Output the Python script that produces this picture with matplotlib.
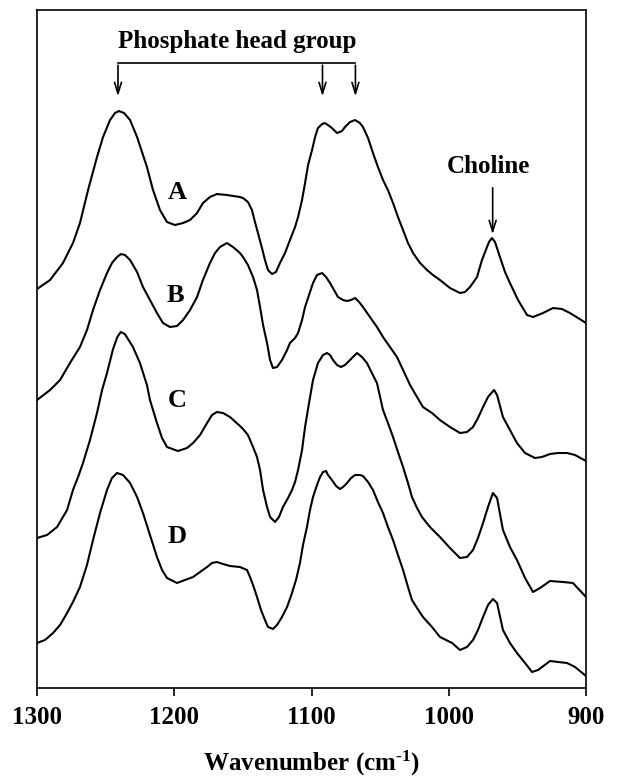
import numpy as np
import matplotlib
matplotlib.use("Agg")
from matplotlib import pyplot as plt

plt.rcParams['font.family'] = ['Liberation Serif', 'DejaVu Serif']
plt.rcParams['font.weight'] = 'bold'
plt.rcParams['mathtext.fontset'] = 'custom'
plt.rcParams['mathtext.rm'] = 'Liberation Serif:bold'
plt.rcParams['mathtext.bf'] = 'Liberation Serif:bold'
plt.rcParams['mathtext.it'] = 'Liberation Serif:bold'
plt.rcParams['mathtext.default'] = 'bf'

# traced spectra (wavenumber, stacked intensity in arbitrary units)
wn_A = [1300, 1290.5, 1281.1, 1273.8, 1268.7, 1262.8, 1256.3, 1251.9, 1246.8, 1243.2, 1240.3,
        1236.6, 1232.2, 1227.1, 1219.9, 1215.5, 1210.4, 1205.3, 1199.5, 1193.6, 1188.5, 1183.4,
        1179.1, 1174.0, 1168.9, 1161.6, 1152.1, 1149.9, 1146.3, 1143.4, 1141.2, 1139.0, 1136.1,
        1133.9, 1131.7, 1128.8, 1125.9, 1123.0, 1119.3, 1115.7, 1112.0, 1109.8, 1106.9, 1104.7,
        1102.5, 1099.6, 1097.4, 1095.3, 1092.3, 1090.2, 1088.0, 1085.1, 1081.4, 1077.8, 1075.6,
        1072.0, 1068.3, 1064.7, 1062.5, 1058.8, 1055.2, 1051.6, 1047.9, 1044.3, 1040.6, 1037.0,
        1033.3, 1029.7, 1026.0, 1020.9, 1015.8, 1011.5, 1006.4, 999.1, 991.8, 988.2, 984.5,
        979.4, 975.8, 972.1, 970.7, 968.5, 966.3, 962.7, 959.0, 955.4, 949.5, 943.0, 938.6,
        931.3, 924.0, 917.5, 911.7, 905.8, 900]
A = [399, 408, 425, 445, 465, 498, 531, 551, 568, 575, 577,
     575, 568, 551, 521, 498, 478, 466, 463, 465, 468, 475,
     485, 491, 494, 493, 491, 490, 486, 478, 466, 455, 440,
     428, 418, 414, 416, 425, 435, 448, 461, 471, 488, 505,
     523, 538, 551, 560, 564, 565, 563, 560, 555, 557, 561,
     566, 568, 565, 561, 550, 535, 521, 508, 498, 485, 471,
     458, 445, 435, 425, 418, 413, 408, 400, 395, 396, 401,
     411, 428, 441, 446, 450, 446, 431, 416, 405, 388, 373, 371,
     375, 380, 379, 375, 370, 365]

wn_B = [1300, 1290.5, 1283.2, 1276.0, 1268.7, 1263.6, 1259.2, 1254.1, 1249.0, 1245.4, 1241.7,
        1238.8, 1235.9, 1232.2, 1227.1, 1222.8, 1217.7, 1212.6, 1208.2, 1203.1, 1198.0, 1193.6,
        1188.5, 1183.4, 1179.1, 1174.0, 1170.3, 1166.7, 1161.6, 1157.2, 1152.1, 1149.9, 1146.3,
        1142.6, 1139.7, 1137.5, 1135.3, 1132.4, 1130.2, 1128.1, 1125.1, 1121.5, 1117.8, 1115.7,
        1112.0, 1109.8, 1106.9, 1104.7, 1101.1, 1098.9, 1096.0, 1092.3, 1089.4, 1086.5, 1083.6,
        1080.7, 1077.0, 1074.1, 1071.2, 1068.3, 1065.3, 1062.5, 1057.4, 1052.3, 1047.9, 1042.8,
        1037.7, 1033.3, 1028.2, 1023.1, 1018.8, 1012.2, 1006.4, 999.1, 991.8, 986.7, 982.3,
        978.7, 975.0, 971.4, 967.0, 964.8, 960.5, 955.4, 950.3, 944.4, 937.2, 932.1, 926.2,
        920.4, 913.8, 908.0, 900]
B = [288, 298, 308, 325, 341, 358, 378, 398, 415, 425, 431,
     434, 433, 428, 416, 401, 388, 375, 365, 361, 362, 368,
     378, 391, 408, 425, 435, 441, 445, 441, 435, 431, 423,
     411, 398, 381, 363, 345, 328, 320, 321, 328, 338, 345,
     350, 355, 368, 381, 396, 405, 413, 415, 411, 405, 398,
     391, 388, 387, 388, 390, 386, 381, 371, 361, 351, 341,
     331, 318, 303, 291, 281, 275, 268, 261, 255, 256, 261,
     270, 281, 291, 298, 293, 271, 258, 245, 235, 230, 231, 234,
     235, 235, 233, 227]

wn_C = [1300, 1292.7, 1285.4, 1278.1, 1273.8, 1270.1, 1266.5, 1261.4, 1256.3, 1252.6, 1249.0,
        1244.6, 1241.5, 1239.0, 1236.0, 1230.1, 1225.0, 1219.9, 1217.7, 1212.6, 1208.9, 1205.3,
        1197.3, 1190.7, 1186.3, 1181.2, 1176.1, 1172.5, 1168.9, 1164.5, 1159.4, 1152.1, 1149.9,
        1146.3, 1142.6, 1139.7, 1137.5, 1135.3, 1132.4, 1130.2, 1126.6, 1123.7, 1120.8, 1117.1,
        1114.2, 1112.0, 1109.8, 1106.9, 1104.7, 1101.8, 1098.9, 1095.3, 1091.6, 1088.7, 1086.5,
        1084.3, 1081.4, 1078.5, 1075.6, 1073.4, 1069.8, 1066.8, 1063.2, 1059.6, 1056.0, 1052.3,
        1047.9, 1044.3, 1040.6, 1037.0, 1033.3, 1029.7, 1026.8, 1023.1, 1019.5, 1013.7, 1006.4,
        999.1, 991.8, 986.7, 982.3, 978.7, 975.0, 971.4, 967.8, 964.8, 960.5, 955.4, 950.3,
        944.4, 938.6, 933.5, 926.2, 916.8, 909.5, 900]
C = [150, 153, 161, 178, 198, 211, 225, 248, 275, 298, 315,
     339, 351, 356, 354, 341, 325, 303, 288, 265, 250, 241,
     237, 240, 245, 253, 265, 273, 276, 275, 271, 262, 259,
     253, 241, 231, 218, 198, 181, 171, 166, 171, 181, 190,
     198, 206, 218, 238, 261, 285, 308, 325, 333, 335, 333,
     328, 323, 321, 323, 326, 331, 335, 331, 325, 315, 305,
     278, 265, 251, 236, 221, 205, 191, 180, 171, 161, 151,
     140, 130, 131, 138, 150, 165, 181, 195, 190, 158, 141, 128,
     110, 96, 100, 107, 106, 105, 91]

wn_D = [1300, 1294.2, 1288.3, 1283.2, 1278.1, 1273.8, 1268.7, 1263.6, 1259.2, 1254.1, 1249.0,
        1245.4, 1241.7, 1237.3, 1232.2, 1227.1, 1222.8, 1217.7, 1212.6, 1208.9, 1205.3, 1198.0,
        1192.2, 1186.3, 1181.2, 1176.1, 1172.5, 1168.9, 1164.5, 1159.4, 1152.1, 1147.0, 1144.8,
        1142.6, 1139.7, 1136.8, 1133.9, 1131.7, 1128.1, 1125.1, 1121.5, 1117.8, 1114.2, 1111.3,
        1108.4, 1106.2, 1103.3, 1101.1, 1098.9, 1096.0, 1093.8, 1091.6, 1089.4, 1088.0, 1085.1,
        1082.1, 1079.2, 1077.0, 1074.1, 1071.2, 1068.3, 1064.7, 1062.5, 1058.8, 1055.2, 1051.6,
        1047.9, 1044.3, 1040.6, 1037.0, 1033.3, 1029.7, 1026.8, 1023.1, 1018.8, 1012.2, 1006.4,
        997.6, 991.8, 986.7, 982.3, 978.7, 975.0, 971.4, 967.8, 964.8, 960.5, 955.4, 950.3,
        944.4, 939.3, 934.9, 926.2, 920.4, 913.8, 908.0, 900]
D = [45, 48, 55, 63, 75, 86, 101, 123, 148, 175, 198,
     210, 215, 213, 205, 191, 175, 153, 131, 118, 110, 105,
     108, 111, 116, 121, 125, 126, 124, 122, 121, 118, 111,
     103, 91, 78, 68, 61, 59, 63, 71, 81, 95, 108,
     125, 143, 161, 178, 191, 203, 211, 216, 217, 213, 208,
     202, 199, 201, 205, 210, 213, 213, 212, 206, 198, 186,
     175, 161, 148, 133, 118, 101, 88, 80, 71, 61, 51,
     45, 38, 41, 48, 58, 71, 83, 89, 85, 58, 45, 35,
     25, 16, 18, 27, 26, 25, 21, 12]

spectra = [(wn_A, A, 'A'), (wn_B, B, 'B'), (wn_C, C, 'C'), (wn_D, D, 'D')]
label_pos = {'A': (1198, 496), 'B': (1199, 393), 'C': (1198, 288), 'D': (1198, 151)}

phosphate_peaks = [1241, 1092, 1068]
choline_peak = 968

fig = plt.figure(figsize=(6.18, 7.78), dpi=100)
ax = fig.add_axes([0.0599, 0.1157, 0.8883, 0.8714])

for wn, y, name in spectra:
    ax.plot(wn, y, color='black', lw=1.5, solid_joinstyle='round')
    ax.text(label_pos[name][0], label_pos[name][1], name, fontsize=19,
            fontweight='bold', ha='center', va='center')

# phosphate bracket with arrows
bracket_y = 625
ax.plot([phosphate_peaks[0], phosphate_peaks[-1]], [bracket_y, bracket_y], color='black', lw=1.2)
for p in phosphate_peaks:
    ax.annotate('', xy=(p, 589), xytext=(p, bracket_y + 0.6),
                arrowprops=dict(arrowstyle='->,head_length=0.8,head_width=0.25', color='black', lw=1.2))
ax.text(1154, 647, 'Phosphate head group', fontsize=18, fontweight='bold', ha='center', va='center')

# choline arrow
ax.annotate('', xy=(choline_peak, 451), xytext=(choline_peak, 503),
            arrowprops=dict(arrowstyle='->,head_length=0.8,head_width=0.25', color='black', lw=1.2))
ax.text(971, 522, 'Choline', fontsize=18, fontweight='bold', ha='center', va='center')

ax.set_xlim(1300, 900)
ax.set_ylim(0, 678)
ax.set_xticks([1300, 1200, 1100, 1000, 900])
ax.set_yticks([])
ax.tick_params(axis='x', direction='out', length=6, width=1.2, labelsize=18, pad=7)
for s in ax.spines.values():
    s.set_linewidth(1.2)
ax.set_xlabel(r'Wavenumber (cm$^{\text{-}1}$)', fontsize=18, fontweight='bold', labelpad=14)

fig.savefig('out.png', dpi=100)
